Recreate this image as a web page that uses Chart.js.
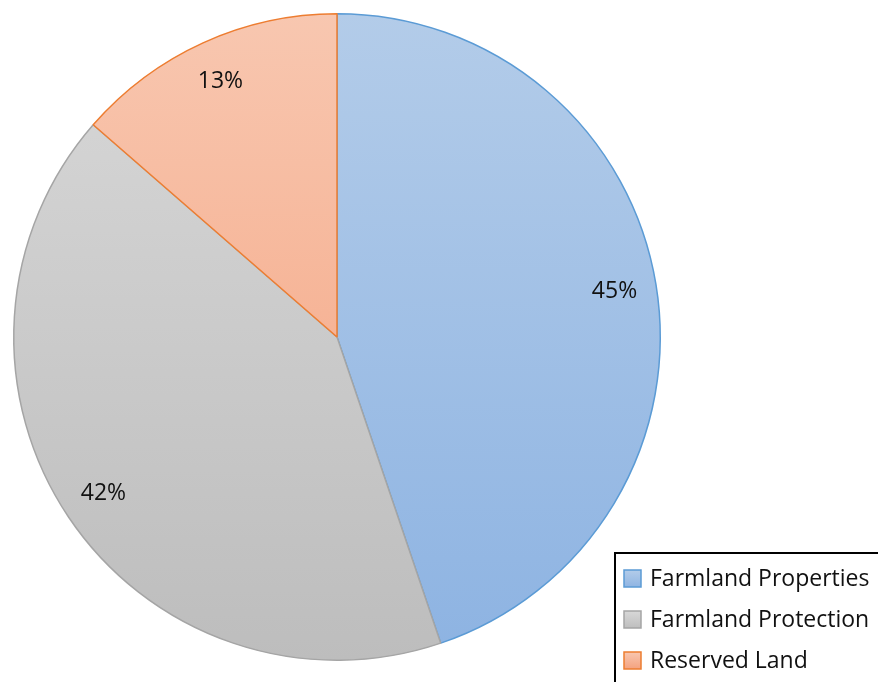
<!DOCTYPE html>
<html>
<head>
<meta charset="utf-8">
<script src="https://cdn.jsdelivr.net/npm/chart.js@4"></script>
<style>
  html, body { margin: 0; padding: 0; background: #fff; }
  #wrap { width: 878px; height: 682px; }
</style>
</head>
<body>
<div id="wrap"><canvas id="landPie" width="878" height="682"></canvas></div>
<script>
const categories = ['Farmland Properties', 'Farmland Protection', 'Reserved Land'];
const shares = [44.8, 41.6, 13.6];
const pctLabels = ['45%', '42%', '13%'];

// colours per slice: [top of gradient, bottom of gradient, border]
const topColors = ['#b3cce9', '#d8d8d8', '#f8c7b0'];
const bottomColors = ['#8db3e2', '#bdbdbd', '#f4a07c'];
const borderColors = ['#5b9bd5', '#a5a5a5', '#ed7d31'];

const ctx = document.getElementById('landPie').getContext('2d');

function sliceFill(context) {
    const chart = context.chart;
    const area = chart.chartArea;
    if (!area) return topColors[context.dataIndex];
    const g = chart.ctx.createLinearGradient(0, area.top, 0, area.bottom);
    g.addColorStop(0, topColors[context.dataIndex]);
    g.addColorStop(1, bottomColors[context.dataIndex]);
    return g;
}

// percent labels inside the slices
const pctLabelPlugin = {
    id: 'pctLabels',
    afterDatasetsDraw(chart) {
        const meta = chart.getDatasetMeta(0);
        const c = chart.ctx;
        c.save();
        c.font = '23px "Open Sans", sans-serif';
        c.fillStyle = '#111111';
        c.textAlign = 'center';
        c.textBaseline = 'middle';
        meta.data.forEach((arc, i) => {
            const p = arc.getProps(['x', 'y', 'startAngle', 'endAngle', 'outerRadius'], true);
            const mid = (p.startAngle + p.endAngle) / 2;
            const r = p.outerRadius * 0.87;
            c.fillText(pctLabels[i], p.x + Math.cos(mid) * r, p.y + Math.sin(mid) * r);
        });
        c.restore();
    }
};

// boxed legend in the lower right corner (runs off the edge like the original)
const boxLegendPlugin = {
    id: 'boxLegend',
    afterDraw(chart) {
        const c = chart.ctx;
        const left = 615, top = 553;
        c.save();
        c.fillStyle = '#ffffff';
        c.fillRect(left, top, 300, 200);
        c.strokeStyle = '#000000';
        c.lineWidth = 2;
        c.strokeRect(left, top, 300, 200);
        c.font = '23px "Open Sans", sans-serif';
        c.textBaseline = 'middle';
        categories.forEach((name, i) => {
            const cy = 579 + i * 41;
            const g = c.createLinearGradient(0, cy - 9, 0, cy + 9);
            g.addColorStop(0, topColors[i]);
            g.addColorStop(1, bottomColors[i]);
            c.fillStyle = g;
            c.fillRect(624, cy - 9, 17, 17);
            c.strokeStyle = borderColors[i];
            c.lineWidth = 1.5;
            c.strokeRect(624, cy - 9, 17, 17);
            c.fillStyle = '#111111';
            c.fillText(name, 650, cy);
        });
        c.restore();
    }
};

new Chart(ctx, {
    type: 'pie',
    data: {
        labels: categories,
        datasets: [{
            data: shares,
            backgroundColor: sliceFill,
            borderColor: borderColors,
            borderWidth: 1.5
        }]
    },
    options: {
        responsive: false,
        animation: false,
        layout: { padding: { left: 13, top: 13, right: 217, bottom: 21 } },
        plugins: {
            legend: { display: false },
            tooltip: { enabled: false }
        }
    },
    plugins: [pctLabelPlugin, boxLegendPlugin]
});
</script>
</body>
</html>
